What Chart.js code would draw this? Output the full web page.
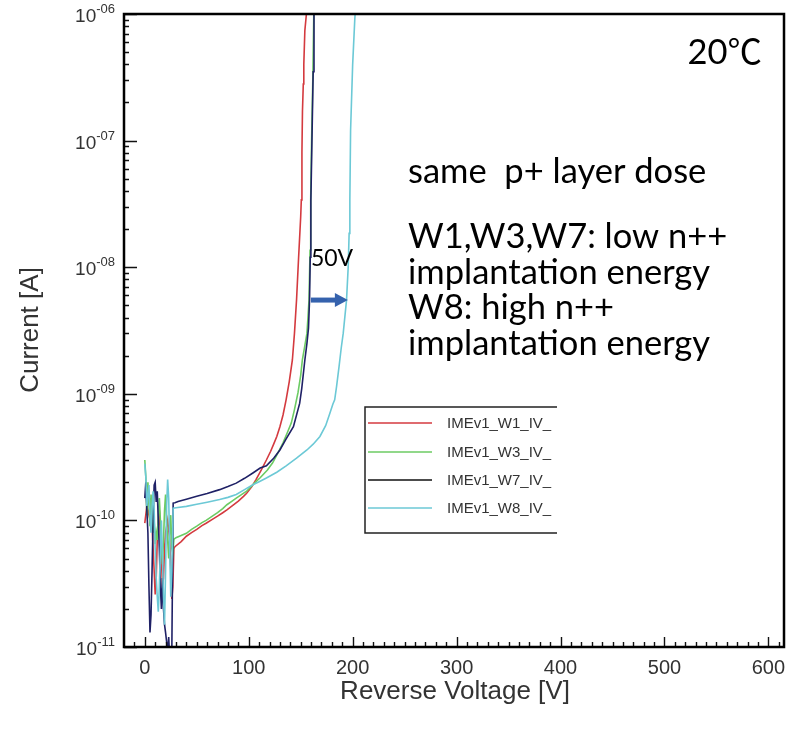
<!DOCTYPE html>
<html><head><meta charset="utf-8">
<script src="https://cdn.jsdelivr.net/npm/chart.js@4/dist/chart.umd.min.js"></script>
<style>html,body{margin:0;padding:0;background:#fff}#wrap{width:793px;height:732px;position:relative}</style>
</head><body><div id="wrap"><canvas id="c"></canvas></div>
<script>
// ---------- data ----------
const seriesLabels = ['IMEv1_W1_IV_', 'IMEv1_W3_IV_', 'IMEv1_W7_IV_', 'IMEv1_W8_IV_'];
const seriesColors = ['#d43a3f', '#6ccb63', '#1f2166', '#6cc9d6'];

const w1Voltage = [0,2,4,6,7,9,10,11,12,14,15,16,17,18,19,20,22,24,25,26,27,28,29,35,40,45,50,55,59,65,70,75,79,85,90,95,98,103,107,112,117,121,124,127,130,133,136,139,142,144,146,148,149.2,150,150.6,151.2,151.7,152.5,153,154,155.5,156.5];
const w1Current = [9.5e-11,1.3e-10,1.1e-10,1.5e-10,9e-11,4e-11,2.6e-11,3.5e-11,7e-11,1.2e-10,8e-11,5e-11,3e-11,3.5e-11,6e-11,8e-11,1.0e-10,7e-11,4e-11,2.4e-11,3e-11,6.0e-11,6.2e-11,6.8e-11,7.5e-11,8.0e-11,8.5e-11,9.1e-11,9.5e-11,1.02e-10,1.08e-10,1.15e-10,1.21e-10,1.32e-10,1.42e-10,1.55e-10,1.64e-10,1.85e-10,2.1e-10,2.5e-10,3.0e-10,3.5e-10,4.0e-10,4.6e-10,5.5e-10,6.8e-10,9.0e-10,1.25e-9,1.85e-9,3.0e-9,5.5e-9,1.2e-8,1.86e-8,2.5e-8,3.4e-8,8e-8,1.7e-7,2.8e-7,4e-7,7.4e-7,1e-6,1.3e-6];

const w3Voltage = [0,1,2,3,4,5,6,7,8,9,10,11,12,13,14,15,16,17,18,19,20,21,22,23,24,25,26,27,28,30,35,40,45,50,55,59,65,70,75,79,84,88,93,98,105,111,118,123,128,133,137,141,144,147.4,150,151.6,154,156,157,158,159,159.6,160.5,161.7,162.6,163.2];
const w3Current = [3.0e-10,2.2e-10,1.1e-10,2.0e-10,1.3e-10,9e-11,1.6e-10,1.2e-10,8e-11,1.0e-10,6.5e-11,8e-11,7e-11,1.1e-10,1.5e-10,1.0e-10,6e-11,4.5e-11,7e-11,1.2e-10,1.6e-10,1.0e-10,7e-11,5e-11,8e-11,1.1e-10,6e-11,5.5e-11,7.1e-11,7.3e-11,7.6e-11,7.9e-11,8.5e-11,9.0e-11,9.6e-11,1.0e-10,1.08e-10,1.15e-10,1.24e-10,1.33e-10,1.42e-10,1.5e-10,1.6e-10,1.7e-10,1.95e-10,2.17e-10,2.5e-10,2.85e-10,3.4e-10,4.1e-10,4.9e-10,5.9e-10,7.5e-10,1.02e-9,1.4e-9,1.85e-9,2.4e-9,3.0e-9,4.0e-9,5.5e-9,1.36e-8,3.4e-8,1e-7,3.2e-7,1e-6,1.3e-6];

const w7Voltage = [0,1,2,3,4,5,6,7,8,9,10,11,12,13,14,15,16,17,18,19,20,21,22,23,24,25,26,27.3,29,32,40,50,60,72,80,88,96,104,111,117,124,130,136,143,149,151,154,156,157.5,158.5,159.2,159.8,161,162,162.8,163.4];
const w7Current = [1.5e-10,2.0e-10,1.2e-10,8e-11,3e-11,1.3e-11,1.8e-11,4e-11,1.0e-10,1.9e-10,2.0e-10,1.4e-10,1.7e-10,1.0e-10,6e-11,3e-11,2e-11,3.5e-11,2e-11,1.5e-11,1.3e-11,1.1e-11,9e-12,1.2e-11,8e-12,7e-12,9e-12,1.37e-10,1.38e-10,1.41e-10,1.47e-10,1.55e-10,1.63e-10,1.75e-10,1.85e-10,1.97e-10,2.15e-10,2.37e-10,2.59e-10,2.7e-10,3.1e-10,3.6e-10,4.4e-10,5.5e-10,8.4e-10,1.1e-9,1.85e-9,2.5e-9,3.3e-9,5.5e-9,1.2e-8,3.4e-8,1.2e-7,3.5e-7,1e-6,1.3e-6];

const w8Voltage = [0,1,2,3,4,5,6,7,8,9,10,11,12,13,14,15,16,17,18,19,20,21,22,23,24,25,26,27.3,30,40,50,60,72,80,88,96,104,110,117,127,136,146,156,162,168.5,174,178,181,182.7,184.5,186.9,189,190.9,194.1,195.7,196.6,197.3,198,200,202,202.8];
const w8Current = [2.8e-10,2.2e-10,1.3e-10,1.6e-10,1.9e-10,1.1e-10,8e-11,1.3e-10,1.7e-10,1.2e-10,6e-11,3.5e-11,2.5e-11,1.9e-11,3e-11,6e-11,1.0e-10,5e-11,2.5e-11,1.5e-11,4e-11,1.3e-10,2.1e-10,1.5e-10,6e-11,2.5e-11,4e-11,1.25e-10,1.26e-10,1.29e-10,1.34e-10,1.39e-10,1.46e-10,1.52e-10,1.6e-10,1.75e-10,1.91e-10,2.02e-10,2.16e-10,2.4e-10,2.7e-10,3.1e-10,3.6e-10,4.0e-10,4.6e-10,5.6e-10,7.0e-10,8.3e-10,8.95e-10,1.14e-9,1.64e-9,2.3e-9,3.0e-9,5.5e-9,1.0e-8,1.85e-8,3.4e-8,1.2e-7,4e-7,8.9e-7,1.15e-6];

const xTickValues = [0,100,200,300,400,500,600];
const xTickLabels = ['0','100','200','300','400','500','600'];
const yTickValues = [1e-6,1e-7,1e-8,1e-9,1e-10,1e-11];
const yTickBase = ['10','10','10','10','10','10'];
const yTickExp = ['-06','-07','-08','-09','-10','-11'];
const xTitle = 'Reverse Voltage [V]';
const yTitle = 'Current [A]';
const noteLines = ['same  p+ layer dose', 'W1,W3,W7: low n++', 'implantation energy', 'W8: high n++', 'implantation energy'];
const tempNote = '20\u2103';
const shiftNote = '50V';
const arrowFrom = {x:159.8, y:5.5e-9};
const arrowTo = {x:195.4, y:5.5e-9};
const shiftNoteAt = {x:159.8, y:1.18e-8};

// ---------- chart ----------
const toPts = (vs, is) => vs.map((v, i) => ({x: v, y: is[i]}));
const volt = [w1Voltage, w3Voltage, w7Voltage, w8Voltage];
const curr = [w1Current, w3Current, w7Current, w8Current];
const drawOrder = [4, 3, 2, 1];

const AXF = '"Liberation Sans", Arial, sans-serif';
const NOTEF = 'Lato, "Noto Sans CJK SC", sans-serif';

const decor = {
  id: 'decor',
  afterDatasetsDraw(chart) {
    const {ctx, chartArea: a, scales: {x, y}} = chart;
    ctx.save();
    // inside ticks
    ctx.strokeStyle = '#111';
    ctx.lineWidth = 1.4;
    ctx.beginPath();
    for (let v = -10; v <= 610; v += 10) {
      const px = Math.round(x.getPixelForValue(v)) + 0.5;
      const len = (v % 100 === 0) ? 10 : 5;
      ctx.moveTo(px, a.bottom); ctx.lineTo(px, a.bottom - len);
    }
    for (let d = -11; d <= -6; d++) {
      for (let m = 1; m <= 9; m++) {
        const val = m * Math.pow(10, d);
        if (val > 1.0001e-6) break;
        const py = Math.round(y.getPixelForValue(val)) + 0.5;
        const len = (m === 1) ? 13 : 5;
        ctx.moveTo(a.left, py); ctx.lineTo(a.left + len, py);
      }
    }
    ctx.stroke();
    // frame
    ctx.lineWidth = 2.5;
    ctx.strokeStyle = '#000';
    ctx.strokeRect(a.left, a.top, a.right - a.left, a.bottom - a.top);

    // x tick labels
    ctx.fillStyle = '#333';
    ctx.font = '20px ' + AXF;
    ctx.textAlign = 'center';
    ctx.textBaseline = 'alphabetic';
    xTickValues.forEach((v, i) => {
      ctx.fillText(xTickLabels[i], x.getPixelForValue(v), 674);
    });
    // y tick labels
    yTickValues.forEach((v, i) => {
      const py = y.getPixelForValue(v);
      ctx.font = '13px ' + AXF;
      const ew = ctx.measureText(yTickExp[i]).width;
      ctx.textAlign = 'left';
      ctx.fillText(yTickExp[i], 115 - ew, py - 1);
      ctx.font = '19px ' + AXF;
      ctx.textAlign = 'right';
      ctx.fillText(yTickBase[i], 115 - ew, py + 8);
    });
    // axis titles
    ctx.font = '26px ' + AXF;
    ctx.textAlign = 'center';
    ctx.fillText(xTitle, 455, 699);
    ctx.save();
    ctx.translate(38, 330);
    ctx.rotate(-Math.PI / 2);
    ctx.fillText(yTitle, 0, 0);
    ctx.restore();

    // legend (clipped at right)
    ctx.save();
    ctx.beginPath(); ctx.rect(0, 0, 557, 732); ctx.clip();
    ctx.strokeStyle = '#222'; ctx.lineWidth = 1.5;
    ctx.beginPath();
    ctx.moveTo(600, 407); ctx.lineTo(365, 407); ctx.lineTo(365, 533); ctx.lineTo(600, 533);
    ctx.stroke();
    const rows = [423, 452, 480, 508];
    ctx.font = '15px ' + AXF;
    ctx.textAlign = 'left';
    ctx.textBaseline = 'middle';
    seriesLabels.forEach((lab, i) => {
      ctx.strokeStyle = (i === 2) ? '#111' : seriesColors[i];
      ctx.lineWidth = 1.5;
      ctx.beginPath(); ctx.moveTo(368, rows[i]); ctx.lineTo(432, rows[i]); ctx.stroke();
      ctx.fillStyle = '#333';
      ctx.fillText(lab, 447, rows[i] + 1);
    });
    ctx.restore();

    // arrow
    const ax0 = x.getPixelForValue(arrowFrom.x), ay = y.getPixelForValue(arrowFrom.y);
    const ax1 = x.getPixelForValue(arrowTo.x);
    ctx.fillStyle = '#3562ad';
    ctx.fillRect(ax0, ay - 2.5, (ax1 - ax0) - 12, 5);
    ctx.beginPath();
    ctx.moveTo(ax1 - 13, ay - 7); ctx.lineTo(ax1, ay); ctx.lineTo(ax1 - 13, ay + 7); ctx.closePath();
    ctx.fill();
    // 50V
    ctx.fillStyle = '#000';
    ctx.font = '23px ' + NOTEF;
    ctx.textAlign = 'left';
    ctx.textBaseline = 'middle';
    ctx.fillText(shiftNote, x.getPixelForValue(shiftNoteAt.x), y.getPixelForValue(shiftNoteAt.y));

    // notes
    ctx.textBaseline = 'alphabetic';
    ctx.font = '34.5px ' + NOTEF;
    ctx.textAlign = 'right';
    ctx.fillText(tempNote, 762, 64);
    ctx.textAlign = 'left';
    const bases = [183, 248, 284, 319, 355];
    noteLines.forEach((t, i) => ctx.fillText(t, 408, bases[i]));
    ctx.restore();
  }
};

new Chart(document.getElementById('c'), {
  type: 'line',
  data: {
    datasets: seriesLabels.map((lab, i) => ({
      label: lab,
      data: toPts(volt[i], curr[i]),
      borderColor: seriesColors[i],
      borderWidth: 1.6,
      pointRadius: 0,
      tension: 0,
      fill: false,
      order: drawOrder[i]
    }))
  },
  options: {
    responsive: true,
    maintainAspectRatio: false,
    animation: false,
    devicePixelRatio: 1,
    layout: {padding: {left: 0, top: 14, right: 9, bottom: 0}},
    plugins: {legend: {display: false}, tooltip: {enabled: false}},
    scales: {
      x: {
        type: 'linear', min: -20, max: 615,
        grid: {display: false}, border: {display: false},
        ticks: {display: false},
        afterFit: s => { s.height = 85; }
      },
      y: {
        type: 'logarithmic', min: 1e-11, max: 1e-6,
        grid: {display: false}, border: {display: false},
        ticks: {display: false},
        afterFit: s => { s.width = 124; }
      }
    }
  },
  plugins: [decor]
});
</script>
</body></html>
